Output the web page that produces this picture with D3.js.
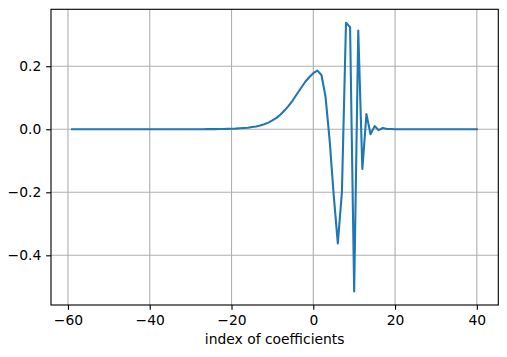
<!DOCTYPE html>
<html>
<head>
<meta charset="utf-8">
<script src="https://cdn.jsdelivr.net/npm/d3@7"></script>
<style>
  html, body { margin: 0; padding: 0; background: #fff; }
  svg { display: block; font-family: "DejaVu Sans", sans-serif; }
</style>
</head>
<body>
<svg id="chart" width="507" height="357"></svg>
<script>
// ---- data ----
const startIndex = -59;
const coefficients = [
  0,0,0,0,0,0,0,0,0,0,
  0,0,0,0,0,0,0,0,0,0,
  0,0,0,0,0,0,0,0,0,0,
  0.0001,0.0002,0.0002,0.0003,0.0004,0.0005,0.0006,0.0008,0.0011,0.0015,
  0.002,0.003,0.004,0.005,0.007,0.009,0.012,0.016,0.021,0.028,
  0.036,0.047,0.060,0.075,0.092,0.112,0.131,0.150,0.165,0.178,
  0.186,0.172,0.103,-0.035,-0.21,-0.362,-0.2,0.338,0.324,-0.515,
  0.313,-0.126,0.048,-0.016,0.010,-0.003,0.004,0.001,0.001,
  0,0,0,0,0,0,0,0,0,0,
  0,0,0,0,0,0,0,0,0,0,0
];
const xTicks = [-60, -40, -20, 0, 20, 40];
const yTicks = [-0.4, -0.2, 0.0, 0.2];
const xLabel = "index of coefficients";

(function () {
  const points = coefficients.map((v, i) => ({ x: startIndex + i, y: v }));
  const pt = 100 / 72; // px per point

  const svg = d3.select("#chart");
  const mLeft = 51, mRight = 498.3, mTop = 9.3, mBottom = 305;

  const x = d3.scaleLinear().domain([-64.15, 45.25]).range([mLeft, mRight]);
  const [ymin, ymax] = d3.extent(coefficients);
  const ypad = (ymax - ymin) * 0.05;
  const y = d3.scaleLinear().domain([ymin - ypad, ymax + ypad]).range([mBottom, mTop]);

  const fmt = v => (v < 0 ? "\u2212" : "") + Math.abs(v);
  const fmtY = v => (v < 0 ? "\u2212" : "") + Math.abs(v).toFixed(1);

  // grid
  const grid = svg.append("g").attr("stroke", "#b0b0b0").attr("stroke-width", 0.8 * pt);
  xTicks.forEach(t => grid.append("line")
    .attr("x1", x(t)).attr("x2", x(t)).attr("y1", mTop).attr("y2", mBottom));
  yTicks.forEach(t => grid.append("line")
    .attr("x1", mLeft).attr("x2", mRight).attr("y1", y(t)).attr("y2", y(t)));

  // line
  const line = d3.line().x(d => x(d.x)).y(d => y(d.y));
  svg.append("path").datum(points)
    .attr("fill", "none").attr("stroke", "#1f77b4")
    .attr("stroke-width", 1.5 * pt).attr("stroke-linejoin", "round").attr("stroke-linecap", "square")
    .attr("d", line);

  // axes
  const xAxis = d3.axisBottom(x).tickValues(xTicks).tickFormat(fmt).tickSizeOuter(0)
    .tickSize(3.5 * pt).tickPadding(3.5 * pt);
  const yAxis = d3.axisLeft(y).tickValues(yTicks).tickFormat(fmtY).tickSizeOuter(0)
    .tickSize(3.5 * pt).tickPadding(3.5 * pt);

  const gx = svg.append("g").attr("transform", `translate(0,${mBottom})`).call(xAxis);
  const gy = svg.append("g").attr("transform", `translate(${mLeft},0)`).call(yAxis);
  [gx, gy].forEach(g => {
    g.attr("font-size", null).attr("font-family", null);
    g.select(".domain").remove();
    g.selectAll(".tick line").attr("stroke", "#000").attr("stroke-width", 0.8 * pt);
    g.selectAll(".tick text").attr("fill", "#000").style("font-size", (10 * pt) + "px")
      .style("font-family", "'DejaVu Sans', sans-serif");
  });

  // spines
  svg.append("rect").attr("x", mLeft).attr("y", mTop)
    .attr("width", mRight - mLeft).attr("height", mBottom - mTop)
    .attr("fill", "none").attr("stroke", "#000").attr("stroke-width", 0.8 * pt);

  // x label
  svg.append("text").attr("x", (mLeft + mRight) / 2).attr("y", 344)
    .attr("text-anchor", "middle").attr("fill", "#000")
    .style("font-size", (10 * pt) + "px").style("font-family", "'DejaVu Sans', sans-serif")
    .text(xLabel);
})();
</script>
</body>
</html>
